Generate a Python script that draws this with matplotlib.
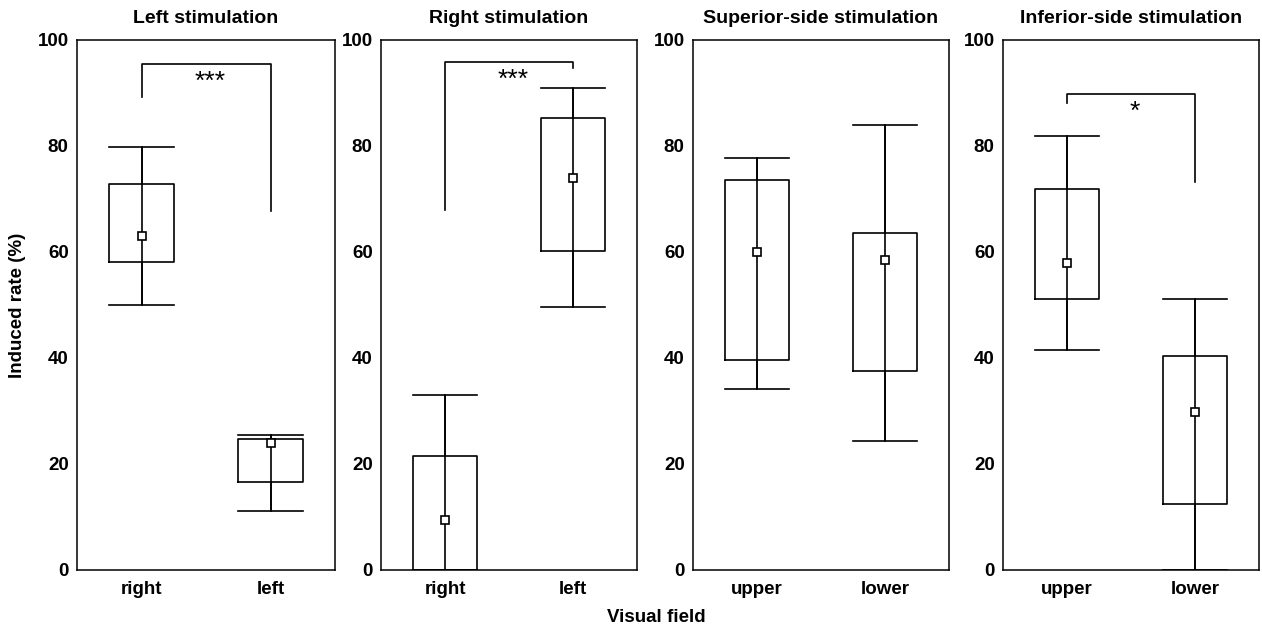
import matplotlib as mpl
mpl.use('Agg')
import matplotlib.pyplot as plt

plt.rcParams['font.family'] = ['Liberation Sans', 'DejaVu Sans']
plt.rcParams['font.weight'] = 'bold'

# panel titles and x categories
titles = ['Left stimulation', 'Right stimulation',
          'Superior-side stimulation', 'Inferior-side stimulation']
categories = [['right', 'left'], ['right', 'left'],
              ['upper', 'lower'], ['upper', 'lower']]

# per panel, per category: whisker low, box low, mean, box high, whisker high
whis_lo = [[50.0, 11.2], [0.0, 49.7], [34.2, 24.4], [41.5, 0.0]]
box_lo = [[58.1, 16.6], [0.0, 60.2], [39.6, 37.5], [51.1, 12.4]]
means = [[63.1, 24.0], [9.5, 74.0], [60.0, 58.4], [58.0, 29.8]]
box_hi = [[72.8, 24.7], [21.5, 85.3], [73.6, 63.6], [71.9, 40.3]]
whis_hi = [[79.9, 25.5], [33.0, 91.0], [77.7, 84.0], [81.8, 51.1]]

# significance brackets: (top, left end, right end, label) or None
brackets = [(95.5, 89.3, 67.7, '***'), (95.9, 68.0, 94.8, '***'),
            None, (89.8, 88.2, 73.2, '*')]

W, H = 1262, 627
fig = plt.figure(figsize=(W / 100, H / 100), dpi=100)
panel_x = [(77, 335), (381, 637), (693, 949), (1003, 1259)]
y_top, y_bot = 40, 570
lw = 1.2

for i in range(4):
    x0, x1 = panel_x[i]
    ax = fig.add_axes([x0 / W, 1 - y_bot / H, (x1 - x0) / W, (y_bot - y_top) / H])
    stats = []
    for j in range(2):
        stats.append(dict(whislo=whis_lo[i][j], q1=box_lo[i][j], med=means[i][j],
                          q3=box_hi[i][j], whishi=whis_hi[i][j], mean=means[i][j],
                          fliers=[]))
    ax.bxp(stats, positions=[0, 1], widths=0.5, capwidths=0.5, showmeans=True,
           boxprops=dict(color='black', linewidth=lw),
           whiskerprops=dict(color='black', linewidth=lw),
           capprops=dict(color='black', linewidth=lw),
           medianprops=dict(linewidth=0),
           meanprops=dict(marker='s', markerfacecolor='white', markeredgecolor='black',
                          markersize=5.5, markeredgewidth=1.2, zorder=5))
    # whisker line runs through the box
    ax.vlines([0, 1], whis_lo[i], whis_hi[i], color='black', linewidth=lw, zorder=3)

    if brackets[i] is not None:
        top, l_end, r_end, lab = brackets[i]
        ax.plot([0, 0, 1, 1], [l_end, top, top, r_end], color='black', linewidth=lw)
        ax.text(0.53, top - 3.4, lab, ha='center', va='center', fontsize=19,
                fontweight='normal')

    ax.set_xlim(-0.5, 1.5)
    ax.set_ylim(0, 100)
    ax.set_xticks([0, 1])
    ax.set_xticklabels(categories[i], fontsize=13.5, fontweight='bold', va='baseline')
    ax.set_yticks([0, 20, 40, 60, 80, 100])
    ax.set_yticklabels(['0', '20', '40', '60', '80', '100'], fontsize=13.5,
                       fontweight='bold')
    ax.tick_params(length=0, pad=6)
    ax.tick_params(axis='x', pad=17)
    for s in ax.spines.values():
        s.set_linewidth(1.1)
    ax.set_title(titles[i], fontsize=14, fontweight='bold', pad=12)
    if i == 0:
        ax.set_ylabel('Induced rate (%)', fontsize=13.5, fontweight='bold', labelpad=8)

fig.text(656 / W, 1 - 617 / H, 'Visual field', ha='center', va='center',
         fontsize=13.5, fontweight='bold')

fig.savefig('out.png', dpi=100)
